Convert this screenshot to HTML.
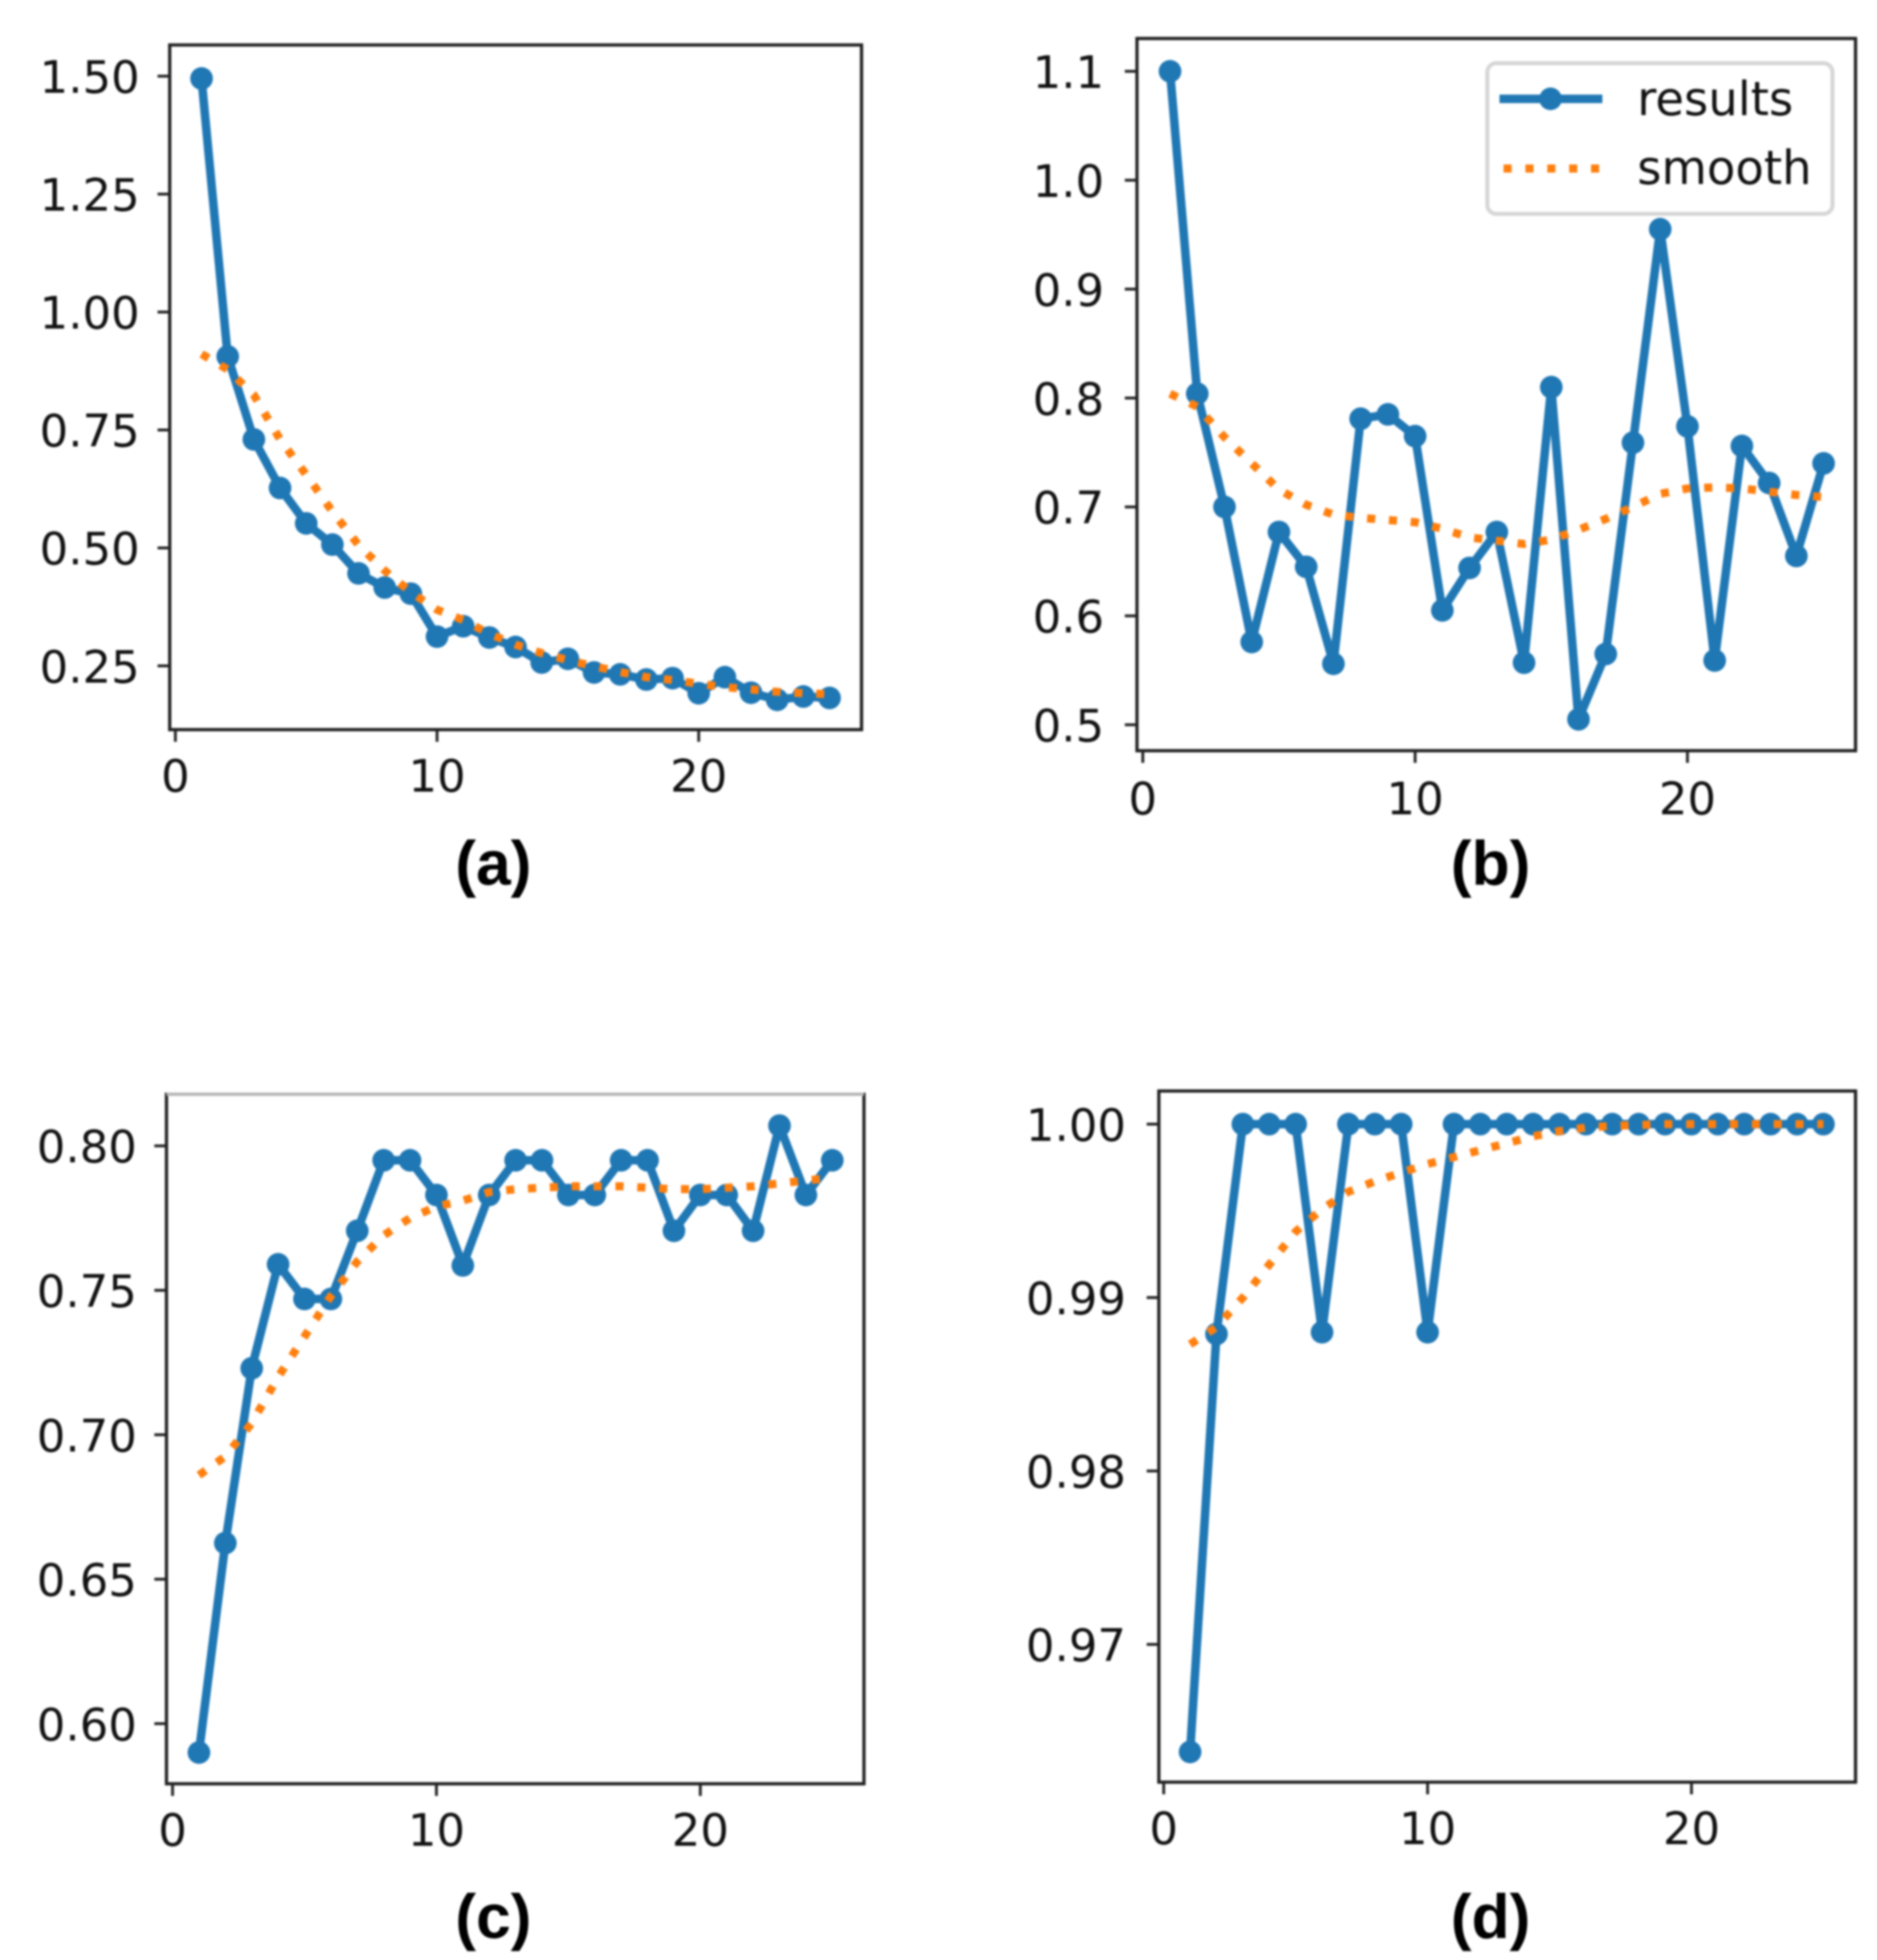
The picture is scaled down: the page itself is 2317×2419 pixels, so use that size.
<!DOCTYPE html>
<html lang="en">
<head>
<meta charset="utf-8">
<title>Training curves, panels a to d</title>
<style>
  html, body { margin: 0; padding: 0; background: #fff; }
  svg { display: block; filter: blur(1.3px); }
  text { font-family: "DejaVu Sans", "Liberation Sans", sans-serif; fill: #111; }
  .caption { font-family: "Liberation Sans", sans-serif; font-weight: 700; font-size: 77px; text-anchor: middle; fill: #000; }
  .tick-label { font-size: 55.5px; }
</style>
</head>
<body>
<svg id="figure" xmlns="http://www.w3.org/2000/svg" width="2317" height="2419" viewBox="0 0 2317 2419">
  <rect width="2317" height="2419" fill="#fff"/>
  <g id="panel-a"></g>
  <g id="panel-b"></g>
  <g id="panel-c"></g>
  <g id="panel-d"></g>

  <text class="caption" x="609" y="1092">(a)</text>
  <text class="caption" x="1840" y="1092">(b)</text>
  <text class="caption" x="609" y="2392">(c)</text>
  <text class="caption" x="1840" y="2392">(d)</text>

  <g>
    <rect x="1836" y="78" width="426" height="186" rx="11" fill="#fff" fill-opacity="0.85" stroke="#d6d6d6" stroke-width="5"/>
    <line x1="1851" y1="122" x2="1978" y2="122" stroke="#1f77b4" stroke-width="10.5"/>
    <circle cx="1914" cy="122" r="14" fill="#1f77b4"/>
    <line x1="1856" y1="208" x2="1978" y2="208" stroke="#ff7f0e" stroke-width="10" stroke-dasharray="10 17"/>
    <text x="2021" y="142" font-size="57.5">results</text>
    <text x="2021" y="227" font-size="57.5">smooth</text>
  </g>
</svg>

<script>
const epochs = [1,2,3,4,5,6,7,8,9,10,11,12,13,14,15,16,17,18,19,20,21,22,23,24,25];
const xTickValues = [0, 10, 20];

const yTicksA = ["0.25", "0.50", "0.75", "1.00", "1.25", "1.50"];
const resultsA = [1.495,0.906,0.73,0.627,0.552,0.507,0.446,0.416,0.403,0.312,0.334,0.31,0.29,0.257,0.265,0.236,0.232,0.221,0.224,0.192,0.226,0.193,0.178,0.185,0.182];
const smoothA = [0.911,0.878,0.824,0.73,0.655,0.577,0.506,0.452,0.406,0.369,0.347,0.318,0.295,0.277,0.262,0.249,0.237,0.226,0.22,0.212,0.205,0.2,0.195,0.192,0.19];

const yTicksB = ["0.5", "0.6", "0.7", "0.8", "0.9", "1.0", "1.1"];
const resultsB = [1.1,0.804,0.7,0.576,0.677,0.645,0.556,0.781,0.785,0.765,0.605,0.644,0.677,0.557,0.81,0.505,0.565,0.759,0.955,0.774,0.559,0.756,0.722,0.655,0.74];
const smoothB = [0.804,0.792,0.764,0.74,0.716,0.702,0.693,0.69,0.688,0.686,0.68,0.672,0.669,0.666,0.67,0.679,0.689,0.7,0.712,0.717,0.718,0.717,0.714,0.711,0.709];

const yTicksC = ["0.60", "0.65", "0.70", "0.75", "0.80"];
const resultsC = [0.59,0.6625,0.723,0.759,0.747,0.747,0.7706,0.795,0.795,0.783,0.7586,0.783,0.795,0.795,0.783,0.783,0.795,0.795,0.7706,0.783,0.783,0.7706,0.807,0.783,0.795];
const smoothC = [0.686,0.6925,0.704,0.72,0.734,0.748,0.76,0.769,0.775,0.779,0.781,0.784,0.785,0.7855,0.786,0.786,0.786,0.7855,0.785,0.785,0.7855,0.786,0.787,0.788,0.789];

const yTicksD = ["0.97", "0.98", "0.99", "1.00"];
const resultsD = [0.9638,0.9879,1,1,1,0.988,1,1,1,0.988,1,1,1,1,1,1,1,1,1,1,1,1,1,1,1];
const smoothD = [0.9873,0.9883,0.99,0.9919,0.9938,0.9951,0.9961,0.9967,0.9972,0.9977,0.9981,0.9985,0.9989,0.9993,0.9996,0.9998,0.9999,0.99995,1,1,1,1,1,1,1];

const SVG_NS = "http://www.w3.org/2000/svg";

function linearScale(d0, d1, r0, r1) {
  return function (v) { return r0 + (v - d0) * (r1 - r0) / (d1 - d0); };
}

function make(parent, tag, attrs) {
  const el = document.createElementNS(SVG_NS, tag);
  for (const k in attrs) el.setAttribute(k, attrs[k]);
  parent.appendChild(el);
  return el;
}

function drawPanel(cfg) {
  const root = document.getElementById(cfg.id);
  const x = linearScale(0, 20, cfg.xAt0, cfg.xAt20);
  const y = linearScale(parseFloat(cfg.yTicks[0]), parseFloat(cfg.yTicks[cfg.yTicks.length - 1]), cfg.yAtFirst, cfg.yAtLast);
  const ink = "#222";

  // ticks and labels
  xTickValues.forEach(function (v) {
    const tick = make(root, "line", { x1: x(v), x2: x(v), y1: cfg.bottom, y2: cfg.bottom + 15, stroke: ink, "stroke-width": 3.5 });
    
    
    const label = make(root, "text", { x: x(v), y: cfg.xLabelY, "text-anchor": "middle", class: "tick-label" });
    
    
    label.textContent = String(v);
  });
  cfg.yTicks.forEach(function (t) {
    const v = parseFloat(t);
    const tick = make(root, "line", { x1: cfg.left - 15, x2: cfg.left, y1: y(v), y2: y(v), stroke: ink, "stroke-width": 3.5 });
    
    
    const label = make(root, "text", { x: cfg.yLabelX, y: y(v) + 20.5, "text-anchor": "end", class: "tick-label" });
    
    
    label.textContent = t;
  });

  // results line
  const resultsPts = epochs.map(function (e, i) { return x(e) + "," + y(cfg.results[i]); }).join(" ");
  const resultsLine = make(root, "polyline", { points: resultsPts, fill: "none", stroke: "#1f77b4", "stroke-width": 10.5, "stroke-linejoin": "round" });
  
  

  // results markers
  epochs.forEach(function (e, i) {
    const point = make(root, "circle", { cx: x(e), cy: y(cfg.results[i]), r: 14, fill: "#1f77b4" });
    
    
  });

  // smooth line
  const smoothPts = epochs.map(function (e, i) { return x(e) + "," + y(cfg.smooth[i]); }).join(" ");
  const smoothLine = make(root, "polyline", { points: smoothPts, fill: "none", stroke: "#ff7f0e", "stroke-width": 10, "stroke-dasharray": "10 17" });
  
  

  // spines
  const spineLeft = make(root, "line", { x1: cfg.left, x2: cfg.left, y1: cfg.top - 2, y2: cfg.bottom + 2, stroke: ink, "stroke-width": 4 });
  
  
  const spineRight = make(root, "line", { x1: cfg.right, x2: cfg.right, y1: cfg.top - 2, y2: cfg.bottom + 2, stroke: ink, "stroke-width": 4 });
  
  
  const spineBottom = make(root, "line", { x1: cfg.left, x2: cfg.right, y1: cfg.bottom, y2: cfg.bottom, stroke: ink, "stroke-width": 4 });
  
  
  const spineTop = make(root, "line", { x1: cfg.left, x2: cfg.right, y1: cfg.top, y2: cfg.top, stroke: cfg.topColor || ink, "stroke-width": 4 });
  
  
}

drawPanel({ id: "panel-a", left: 209.5, right: 1063.5, top: 55.5, bottom: 900.5,
  xAt0: 216.5, xAt20: 862.5, yAtFirst: 821.8, yAtLast: 94,
  xLabelY: 977, yLabelX: 172.5, yTicks: yTicksA, results: resultsA, smooth: smoothA });

drawPanel({ id: "panel-b", left: 1403.5, right: 2290.5, top: 47.5, bottom: 926.5,
  xAt0: 1410.7, xAt20: 2083, yAtFirst: 894.5, yAtLast: 88,
  xLabelY: 1005, yLabelX: 1363, yTicks: yTicksB, results: resultsB, smooth: smoothB });

drawPanel({ id: "panel-c", left: 205.5, right: 1066.5, top: 1350.5, bottom: 2201.5,
  xAt0: 213, xAt20: 864.5, yAtFirst: 2127.3, yAtLast: 1414.2, topColor: "#b5b5b5",
  xLabelY: 2278, yLabelX: 169, yTicks: yTicksC, results: resultsC, smooth: smoothC });

drawPanel({ id: "panel-d", left: 1430.5, right: 2290.5, top: 1346.5, bottom: 2199.5,
  xAt0: 1436.5, xAt20: 2088, yAtFirst: 2029.5, yAtLast: 1387.4,
  xLabelY: 2276, yLabelX: 1390, yTicks: yTicksD, results: resultsD, smooth: smoothD });
</script>
</body>
</html>
